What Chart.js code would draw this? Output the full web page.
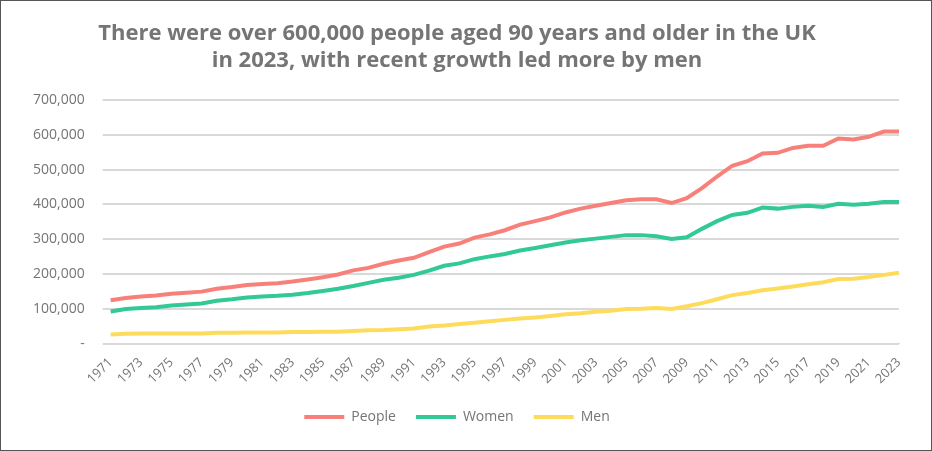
<!DOCTYPE html>
<html><head><meta charset="utf-8">
<script src="https://cdn.jsdelivr.net/npm/chart.js@4"></script>
<style>
body{margin:0;background:#fff;}
#wrap{position:absolute;left:0;top:0;width:930px;height:449px;border:1px solid #555;}
</style></head><body>
<div id="wrap"><canvas id="c"></canvas></div>
<script>
const years=[];for(let y=1971;y<=2023;y++)years.push(String(y));
const people=[125,132,136,139,144,147,150,158,163,169,172,174,179,185,191,199,211,218,230,239,247,263,279,288,305,314,326,342,352,363,377,388,396,404,412,415,415,404,418,447,480,511,524,546,548,562,568,568,589,586,594,609,609].map(v=>v*1000);
const women=[93,100,103,105,110,113,116,124,128,133,136,138,141,146,152,158,166,175,184,190,198,210,224,231,243,251,258,268,275,283,291,297,302,307,312,312,309,301,306,330,352,370,376,391,388,393,396,393,402,399,402,407,407].map(v=>v*1000);
const men=[27,29,30,30,30,30,30,32,32,33,33,33,34,34,35,35,37,39,40,42,44,50,53,57,61,65,69,73,76,80,85,88,92,95,100,101,103,100,108,117,128,140,146,154,159,165,171,177,186,187,192,198,204].map(v=>v*1000);
const titleLines=["There were over 600,000 people aged 90 years and older in the UK","in 2023, with recent growth led more by men"];
const grey='#757575';
const ds=(label,data,color)=>({label,data,borderColor:color,backgroundColor:color,borderWidth:4,pointRadius:0,tension:0});
new Chart(document.getElementById('c'),{
  type:'line',
  data:{labels:years,datasets:[ds('People',people,'#f8807a'),ds('Women',women,'#32c994'),ds('Men',men,'#fddc5c')]},
  options:{
    responsive:true,maintainAspectRatio:false,animation:false,
    layout:{padding:{left:14,right:32,top:8,bottom:16}},
    plugins:{
      title:{display:true,text:titleLines,color:grey,font:{family:'Open Sans',size:22,weight:'bold'},padding:{top:12,bottom:26},lineHeight:1.2},
      legend:{position:'bottom',labels:{usePointStyle:true,pointStyle:'line',pointStyleWidth:40,color:grey,font:{family:'Open Sans',size:14},padding:20}}
    },
    scales:{
      x:{grid:{display:false},border:{color:'#d9d9d9'},ticks:{color:grey,font:{family:'Open Sans',size:13},maxRotation:45,minRotation:45,autoSkip:false,callback:(v,i)=>i%2===0?years[i]:''}},
      y:{min:0,max:700000,grid:{color:'#d9d9d9',lineWidth:2},border:{display:false},ticks:{stepSize:100000,color:grey,font:{family:'Open Sans',size:14},padding:18,callback:v=>v===0?'-':v.toLocaleString('en-GB')}}
    }
  }
});
</script></body></html>
